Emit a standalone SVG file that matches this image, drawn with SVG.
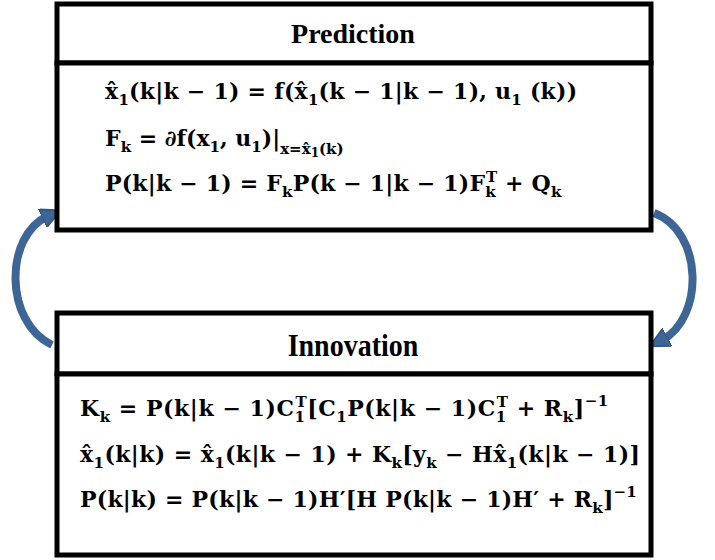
<svg xmlns="http://www.w3.org/2000/svg" width="715" height="560" viewBox="0 0 715 560">
<defs>
<style>
.box{fill:#fff;stroke:#000;stroke-width:5}
.title{font-family:"Liberation Serif","Times New Roman",serif;font-weight:bold;font-size:28px;text-anchor:middle;fill:#000}
.eq{font-family:"DejaVu Serif","Liberation Serif",serif;font-weight:bold;font-size:22px;fill:#000}
.s{font-size:15px}
.ss{font-size:12px}
.arrow{fill:none;stroke:#3D6596;stroke-width:8;stroke-linecap:butt}
</style>
<marker id="ah" viewBox="0 0 10 10" refX="3" refY="5" markerWidth="20" markerHeight="20" markerUnits="userSpaceOnUse" orient="auto">
<path d="M0,0 L10,5 L0,10 z" fill="#3D6596" stroke="#2F5483" stroke-width="0.8"/>
</marker>
</defs>
<rect width="715" height="560" fill="#fff"/>
<g id="connectors">
<path class="arrow" d="M52,345 C4,322 4,236 48,216" marker-end="url(#ah)"/>
<path class="arrow" d="M654,213 C704,232 704,318 662,340" marker-end="url(#ah)"/>
</g>
<g id="prediction">
<rect class="box" x="57" y="4" width="594" height="59"/>
<rect class="box" x="57" y="63" width="594" height="167"/>
<text class="title" x="353" y="43">Prediction</text>
<text class="eq" x="105" y="99" letter-spacing="0.25">x̂<tspan class="s" dy="6">1</tspan><tspan dy="-6">(k|k − 1) = f(x̂</tspan><tspan class="s" dy="6">1</tspan><tspan dy="-6">(k − 1|k − 1), u</tspan><tspan class="s" dy="6">1</tspan><tspan dy="-6"> (k))</tspan></text>
<text class="eq" x="105" y="146">F<tspan class="s" dy="6">k</tspan><tspan dy="-6"> = ∂f(x</tspan><tspan class="s" dy="6">1</tspan><tspan dy="-6">, u</tspan><tspan class="s" dy="6">1</tspan><tspan dy="-6">)|</tspan><tspan class="s" dy="8">x=x̂</tspan><tspan class="ss" dy="3">1</tspan><tspan class="s" dy="-3">(k)</tspan></text>
<text class="eq" x="105" y="191" letter-spacing="0.2">P(k|k − 1) = F<tspan class="s" dy="6">k</tspan><tspan dy="-6">P(k − 1|k − 1)F</tspan><tspan class="s" dy="6">k</tspan><tspan class="s" dx="-10" dy="-15">T</tspan><tspan dy="9"> + Q</tspan><tspan class="s" dy="6">k</tspan></text>
</g>
<g id="innovation">
<rect class="box" x="57" y="313" width="594" height="61"/>
<rect class="box" x="57" y="374" width="594" height="181"/>
<text class="title" x="353" y="356" transform="translate(353 356) scale(1 1.12) translate(-353 -356)">Innovation</text>
<text class="eq" x="80" y="416" letter-spacing="0.55">K<tspan class="s" dy="6">k</tspan><tspan dy="-6"> = P(k|k − 1)C</tspan><tspan class="s" dy="6">1</tspan><tspan class="s" dx="-10" dy="-15">T</tspan><tspan dy="9">[C</tspan><tspan class="s" dy="6">1</tspan><tspan dy="-6">P(k|k − 1)C</tspan><tspan class="s" dy="6">1</tspan><tspan class="s" dx="-10" dy="-15">T</tspan><tspan dy="9"> + R</tspan><tspan class="s" dy="6">k</tspan><tspan dy="-6">]</tspan><tspan class="s" dy="-10">−1</tspan></text>
<text class="eq" x="80" y="462" letter-spacing="0.4">x̂<tspan class="s" dy="6">1</tspan><tspan dy="-6">(k|k) = x̂</tspan><tspan class="s" dy="6">1</tspan><tspan dy="-6">(k|k − 1) + K</tspan><tspan class="s" dy="6">k</tspan><tspan dy="-6">[y</tspan><tspan class="s" dy="6">k</tspan><tspan dy="-6"> − Hx̂</tspan><tspan class="s" dy="6">1</tspan><tspan dy="-6">(k|k − 1)]</tspan></text>
<text class="eq" x="80" y="507" letter-spacing="0.22">P(k|k) = P(k|k − 1)H′[H P(k|k − 1)H′ + R<tspan class="s" dy="6">k</tspan><tspan dy="-6">]</tspan><tspan class="s" dy="-10">−1</tspan></text>
</g>
</svg>
